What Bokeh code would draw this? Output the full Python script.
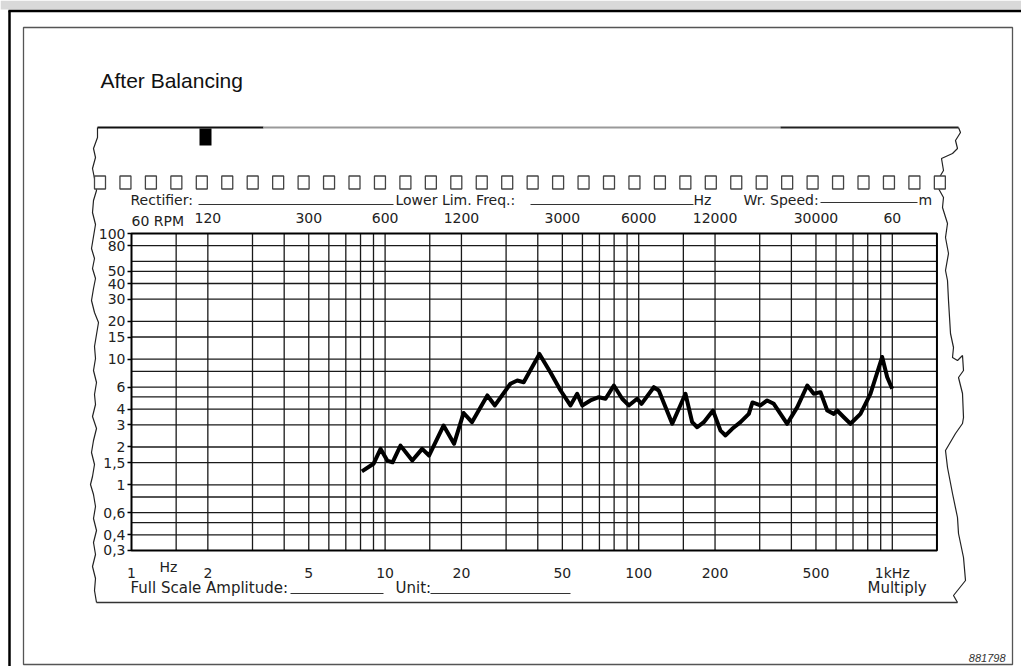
from bokeh.plotting import figure
from bokeh.models import Range1d, LinearScale, LogAxis, FixedTicker
from bokeh.core.properties import value
from bokeh.embed import file_html
from bokeh.resources import INLINE

# ---------------- data ----------------
title_text = "After Balancing"
freq_hz = [8.1, 9.0, 9.6, 10.2, 10.7, 11.5, 12.8, 14.0, 14.9, 17.0, 18.7, 20.4, 22.0,
           25.3, 27.1, 31.2, 33.2, 35.2, 40.6, 44.9, 49.2, 53.8, 57.2, 59.9, 64.5,
           69.6, 74.0, 79.8, 86.1, 91.4, 98.6, 102.6, 114.7, 120.0, 135.6, 152.9,
           162.5, 170.1, 180.6, 196.3, 210.2, 220.0, 233.7, 252.0, 271.8, 281.0,
           302.0, 321.0, 341.0, 385.0, 422.0, 462.0, 490.0, 521.0, 554.0, 588.0,
           606.0, 644.0, 684.0, 749.0, 820.0, 912.0, 955.0, 999.0]
amplitude = [1.28, 1.47, 1.93, 1.56, 1.51, 2.05, 1.56, 1.93, 1.71, 2.96, 2.12, 3.73, 3.15,
             5.14, 4.28, 6.37, 6.76, 6.55, 11.0, 7.83, 5.63, 4.28, 5.30, 4.28, 4.69,
             4.98, 4.84, 6.17, 4.84, 4.28, 4.84, 4.41, 5.98, 5.63, 3.06, 5.30,
             3.15, 2.87, 3.15, 3.90, 2.70, 2.47, 2.79, 3.15, 3.67, 4.52,
             4.28, 4.69, 4.41, 3.06, 4.15, 6.17, 5.30, 5.46, 3.90, 3.67,
             3.90, 3.45, 3.06, 3.67, 5.30, 10.4, 7.18, 5.81]

x_tick_values = [1, 2, 5, 10, 20, 50, 100, 200, 500, 1000]
x_tick_labels = ["1", "2", "5", "10", "20", "50", "100", "200", "500", "1kHz"]
rpm_tick_values = [2, 5, 10, 20, 50, 100, 200, 500, 1000]
rpm_tick_labels = ["120", "300", "600", "1200", "3000", "6000", "12000", "30000", "60"]
rpm_first_label = "60 RPM"
y_tick_values = [0.3, 0.4, 0.6, 1, 1.5, 2, 3, 4, 6, 10, 15, 20, 30, 40, 50, 80, 100]
y_tick_labels = ["0,3", "0,4", "0,6", "1", "1,5", "2", "3", "4", "6", "10", "15",
                 "20", "30", "40", "50", "80", "100"]
x_grid_values = [1.5, 2, 3, 4, 5, 6, 7, 8, 9, 10, 15, 20, 30, 40, 50, 60, 70, 80, 90,
                 100, 150, 200, 300, 400, 500, 600, 700, 800, 900, 1000]
y_grid_values = [0.4, 0.5, 0.6, 0.8, 1, 1.5, 2, 3, 4, 5, 6, 8, 10, 15, 20, 30, 40, 50,
                 60, 80]
x_limits = (1, 1500)
y_limits = (0.3, 100)

# ---------------- layout (page pixels) ----------------
W, H = 1021, 666
PL, PT = 0, 0
X1HZ, XDEC = 131.0, 253.6
Y1, YDEC = 484.3, 125.65
x_lo = 10 ** ((PL - X1HZ) / XDEC)
x_hi = 10 ** ((PL + W - X1HZ) / XDEC)
y_hi = 10 ** ((Y1 - PT) / YDEC)
y_lo = 10 ** ((Y1 - (PT + H)) / YDEC)

FONT = "DejaVu Sans"
TFONT = "Liberation Sans"

p = figure(width=W, height=H, x_axis_type="log", y_axis_type="log",
           x_range=Range1d(x_lo, x_hi), y_range=Range1d(y_lo, y_hi),
           x_axis_location=None, y_axis_location=None, title=None,
           toolbar_location=None, output_backend="svg", min_border=0)
p.extra_x_ranges = {"px": Range1d(PL, PL + W)}
p.extra_y_ranges = {"px": Range1d(PT + H, PT)}
p.extra_x_scales = {"px": LinearScale()}
p.extra_y_scales = {"px": LinearScale()}
p.grid.visible = False
p.outline_line_color = None
p.background_fill_color = "white"
p.border_fill_color = "white"

PX = dict(x_range_name="px", y_range_name="px")

# watermark band and page frames
p.quad(left=[0], right=[W], top=[0], bottom=[9], fill_color="#d9d9d9", line_color=None, **PX)
p.segment(x0=[8, 9], y0=[10.5, 10], x1=[W, 9], y1=[10.5, H],
          line_color="black", line_width=2.5, **PX)
p.quad(left=[23], right=[1012], top=[27], bottom=[664], fill_color=None,
       line_color="#555", line_width=1.3, **PX)

# paper strip outline (torn edges)
left_edge_x = [97, 97, 93, 95, 92, 94, 96, 93, 92, 95, 93, 91, 94, 92, 95, 93, 91, 94, 98, 96,
               94, 95, 93, 96, 94, 95, 92, 96, 93, 91, 94, 92, 90, 93, 95, 93, 96, 93, 95, 92,
               95, 94, 96]
left_edge_y = [127, 137, 148, 157, 168, 178, 190, 200, 212, 224, 236, 248, 258, 268, 278, 288,
               300, 312, 322, 334, 346, 358, 370, 382, 394, 404, 416, 428, 440, 452, 464, 476,
               484, 494, 506, 518, 530, 542, 554, 566, 578, 590, 602]
right_edge_x = [958, 960, 955, 957, 952, 941, 943, 937, 938, 943, 942, 947, 945, 948, 945, 947,
                948, 950, 953, 952, 957, 962, 963, 958, 962, 963, 962, 955, 945, 947, 952, 957,
                958, 963, 965, 957, 953, 957]
right_edge_y = [127, 132, 140, 148, 153, 158, 170, 180, 188, 197, 207, 223, 237, 253, 270, 280,
                300, 333, 347, 357, 360, 355, 370, 377, 393, 417, 423, 433, 450, 467, 493, 517,
                533, 557, 580, 590, 595, 602]
p.line(left_edge_x, left_edge_y, line_color="#222", line_width=1.2, **PX)
p.line(right_edge_x, right_edge_y, line_color="#222", line_width=1.2, **PX)
p.segment(x0=[97, 263, 780, 96], y0=[127, 127, 127, 602], x1=[263, 780, 958, 957],
          y1=[127, 127, 127, 602], line_color=["#111", "#999", "#222", "#333"],
          line_width=[2, 2, 2, 1.6], **PX)
p.quad(left=[199], right=[211], top=[128], bottom=[145], fill_color="black",
       line_color=None, **PX)

# sprocket holes
hole_x = [99.5 + 25.45 * k for k in range(34)]
p.rect(x=hole_x, y=[182] * len(hole_x), width=11, height=13, fill_color="white",
       line_color="#444", line_width=1.3, **PX)

# form texts and blanks
p.segment(x0=[198, 530, 820, 290, 430], y0=[204, 204, 202, 593, 593],
          x1=[393, 693, 917, 383, 570], y1=[204, 204, 202, 593, 593],
          line_color="#333", line_width=1.2, **PX)
p.text(x=[130, 395, 693, 743, 918], y=[199, 199, 199, 199, 199],
       text=["Rectifier:", "Lower Lim. Freq.:", "Hz", "Wr. Speed:", "m"],
       text_font=value(FONT), text_font_size="14px", text_baseline="middle",
       text_align="left", text_color="#222", **PX)
p.text(x=[130, 395, 867], y=[587, 587, 587],
       text=["Full Scale Amplitude:", "Unit:", "Multiply"],
       text_font=value(FONT), text_font_size="15px", text_baseline="middle",
       text_align="left", text_color="#222", **PX)
p.text(x=[159], y=[566], text=["Hz"], text_font=value(FONT), text_font_size="14px",
       text_baseline="middle", text_align="left", text_color="#222", **PX)
p.text(x=[100], y=[80], text=[title_text], text_font=value(TFONT),
       text_font_size="21px", text_baseline="middle", text_align="left",
       text_color="#111", **PX)
p.text(x=[1005], y=[661], text=["881798"], text_font=value(TFONT), text_font_size="11px",
       text_font_style="italic", text_baseline="bottom", text_align="right",
       text_color="#333", **PX)

# chart grid (data space)
p.segment(x0=x_grid_values, y0=[y_limits[0]] * len(x_grid_values),
          x1=x_grid_values, y1=[y_limits[1]] * len(x_grid_values),
          line_color="#1a1a1a", line_width=1.3)
p.segment(x0=[x_limits[0]] * len(y_grid_values), y0=y_grid_values,
          x1=[x_limits[1]] * len(y_grid_values), y1=y_grid_values,
          line_color="#1a1a1a", line_width=1.3)
p.quad(left=[x_limits[0]], right=[x_limits[1]], bottom=[y_limits[0]], top=[y_limits[1]],
       fill_color=None, line_color="black", line_width=2)

# spectrum curve
p.line(freq_hz, amplitude, line_color="black", line_width=4, line_join="round")

# axes
xaxis = LogAxis(fixed_location=y_limits[0], ticker=FixedTicker(ticks=x_tick_values),
                major_label_overrides=dict(zip(x_tick_values, x_tick_labels)),
                axis_line_color=None, major_tick_line_color=None,
                minor_tick_line_color=None, major_label_standoff=9,
                major_label_text_font=FONT, major_label_text_font_size="14px",
                major_label_text_color="#222")
p.add_layout(xaxis, "below")

raxis = LogAxis(fixed_location=y_limits[1], ticker=FixedTicker(ticks=rpm_tick_values),
                major_label_overrides=dict(zip(rpm_tick_values, rpm_tick_labels)),
                axis_line_color=None, major_tick_line_color=None,
                minor_tick_line_color=None, major_label_standoff=5,
                major_label_text_font=FONT, major_label_text_font_size="14px",
                major_label_text_color="#222")
p.add_layout(raxis, "above")
p.text(x=[x_limits[0]], y=[y_limits[1]], text=[rpm_first_label], y_offset=-5,
       text_font=value(FONT), text_font_size="14px", text_baseline="bottom",
       text_align="left", text_color="#222")

yaxis = LogAxis(fixed_location=x_limits[0], ticker=FixedTicker(ticks=y_tick_values),
                major_label_overrides=dict(zip(y_tick_values, y_tick_labels)),
                axis_line_color=None, major_tick_out=4, major_tick_in=0,
                major_tick_line_color="black", major_tick_line_width=1.5,
                minor_tick_line_color=None, major_label_standoff=2,
                major_label_text_font=FONT, major_label_text_font_size="14px",
                major_label_text_color="#222")
p.add_layout(yaxis, "left")

open("out.html", "w").write(file_html(p, INLINE))
